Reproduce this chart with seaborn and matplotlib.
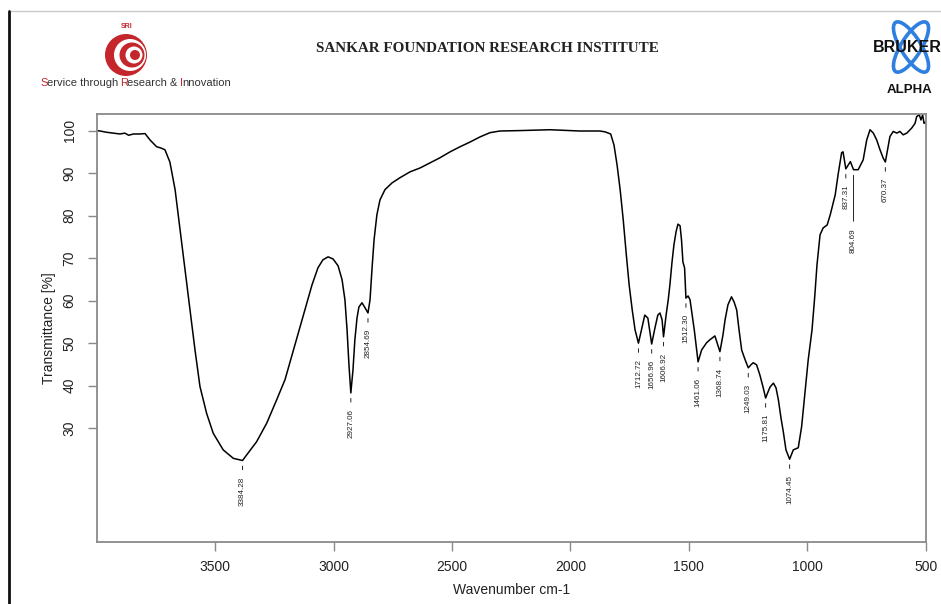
import numpy as np
import pandas as pd
import matplotlib
matplotlib.use("Agg")
import matplotlib.pyplot as plt
import seaborn as sns
from matplotlib.patches import Circle, Ellipse

# FT-IR spectrum (wavenumber in cm-1, transmittance in %)
wavenumber = [
    4000, 3986, 3958, 3930, 3902, 3881, 3865, 3845, 3817, 3796, 3775, 3747,
    3729, 3712, 3691, 3669, 3648, 3627, 3606, 3585, 3564, 3536, 3508, 3466,
    3423, 3384.28, 3367, 3325, 3282, 3240, 3205, 3163, 3121, 3091, 3066,
    3045, 3023, 3002, 2981, 2964, 2952, 2943, 2935, 2927.06, 2918, 2910,
    2901, 2893, 2880, 2867, 2854.69, 2846, 2838, 2829, 2817, 2804, 2783,
    2753, 2720, 2677, 2635, 2593, 2551, 2508, 2466, 2424, 2382, 2340, 2298,
    2213, 2086, 1960, 1875, 1854, 1830, 1816, 1803, 1790, 1777, 1764, 1752,
    1739, 1727, 1712.72, 1698, 1686, 1673, 1656.96, 1643, 1631, 1622, 1613,
    1606.92, 1596, 1587, 1580, 1571, 1563, 1554, 1546, 1537, 1531, 1525,
    1518, 1512.30, 1503, 1495, 1477, 1461.06, 1446, 1425, 1411, 1390, 1378,
    1368.74, 1356, 1347, 1335, 1320, 1309, 1298, 1288, 1277, 1267, 1259,
    1249.03, 1238, 1228, 1214, 1200, 1186, 1175.81, 1166, 1157, 1143, 1132,
    1122, 1111, 1101, 1090, 1074.45, 1059, 1038, 1024, 1010, 996, 980, 968,
    959, 946, 933, 916, 903, 882, 870, 855, 849, 837.31, 818, 804.69, 785,
    764, 749, 735, 721, 707, 693, 680, 670.37, 651, 637, 622, 609, 595, 580,
    559, 545, 538, 527, 520, 513, 507, 500,
]
transmittance = [
    100.0, 99.9, 99.6, 99.4, 99.2, 99.4, 98.9, 99.2, 99.2, 99.3, 97.8, 96.2,
    95.9, 95.5, 92.6, 86.1, 76.6, 67.2, 57.8, 48.4, 39.8, 33.5, 28.8, 24.9,
    22.9, 22.4, 23.7, 26.8, 31.2, 36.7, 41.4, 49.6, 57.8, 63.7, 67.7,
    69.6, 70.3, 69.8, 68.2, 64.9, 60.2, 53.1, 44.9, 38.3, 43.7, 50.8,
    55.9, 58.5, 59.5, 58.3, 57.1, 60.2, 67.2, 74.3, 80.2, 83.7, 86.1,
    87.7, 88.9, 90.3, 91.2, 92.4, 93.6, 95.0, 96.2, 97.3, 98.5, 99.5, 99.9,
    100.0, 100.2, 99.9, 99.9, 99.7, 99.2, 96.6, 91.9, 86.1, 79.0, 70.8, 63.7,
    57.8, 53.1, 50.0, 53.6, 56.6, 55.9, 49.8, 53.6, 56.6, 57.1, 55.5,
    51.5, 56.6, 60.2, 63.7, 69.1, 73.1, 76.2, 78.0, 77.6, 74.3, 69.1,
    67.7, 60.6, 61.1, 60.2, 53.1, 45.6, 48.4, 50.1, 50.8, 51.7, 49.6,
    48.0, 51.9, 55.5, 59.0, 60.9, 59.7, 57.8, 53.1, 48.4, 46.8, 45.6,
    44.2, 44.9, 45.4, 44.9, 42.5, 39.5, 37.1, 38.5, 39.7, 40.6, 39.5,
    36.7, 32.4, 29.1, 24.9, 22.7, 24.9, 25.4, 30.3, 38.3, 46.1, 53.1, 61.3,
    68.4, 75.5, 77.1, 77.8, 80.2, 84.9, 89.6, 94.8, 95.0, 91.0, 92.7, 90.8, 90.8,
    93.1, 97.8, 100.2, 99.4, 97.8, 95.5, 93.6, 92.6, 98.6, 99.8, 99.4, 99.8, 99.0, 99.4,
    100.6, 101.7, 103.3, 103.7, 102.5, 103.7, 101.7, 102.0,
]

# Picked absorption bands
peak_wavenumbers = [3384.28, 2927.06, 2854.69, 1712.72, 1656.96, 1606.92,
                    1512.30, 1461.06, 1368.74, 1249.03, 1175.81, 1074.45,
                    837.31, 804.69, 670.37]
long_leader = [804.69]

x_ticks = [3500, 3000, 2500, 2000, 1500, 1000, 500]
y_ticks = [30, 40, 50, 60, 70, 80, 90, 100]

sns.set_theme(style="ticks")
plt.rcParams['font.family'] = ['Liberation Sans', 'DejaVu Sans']

W, H = 941, 604
fig = plt.figure(figsize=(W / 100, H / 100), dpi=100)

# page layer in pixel units for the report header
page = fig.add_axes([0, 0, 1, 1])
page.set_xlim(0, W)
page.set_ylim(H, 0)
page.axis('off')
page.plot([9, W], [11, 11], color='#c8c8c8', lw=1.0)
page.plot([9, 9], [11, H], color='#111111', lw=2.0)

# institute logo
red = '#c4262c'
page.text(127, 27, 'SRI', color=red, fontsize=5, fontweight='bold',
          ha='center', va='center')
for r, dx, c in [(21, 0, red), (16, 4, 'white'), (12.5, 6, red),
                 (8.5, 8, 'white'), (5, 9, red)]:
    page.add_patch(Circle((126 + dx, 55), r, color=c, lw=0))

parts = [('S', red), ('ervice through ', '#333333'), ('R', red),
         ('esearch & ', '#333333'), ('I', red), ('nnovation', '#333333')]
prev = page.text(40, 83, parts[0][0], color=parts[0][1], fontsize=8,
                 ha='left', va='center')
for s, c in parts[1:]:
    prev = page.annotate(s, xy=(1, 0), xycoords=prev, xytext=(-0.6, 0),
                         textcoords='offset points', color=c, fontsize=8,
                         ha='left', va='bottom')

page.text(487, 48, 'SANKAR FOUNDATION RESEARCH INSTITUTE',
          family=['Liberation Serif', 'DejaVu Serif'], fontweight='bold',
          fontsize=10.9, color='#222222', ha='center', va='center')

# instrument logo
blue = '#2f7fe0'
page.add_patch(Ellipse((911, 47), 20, 58, angle=32, fill=False,
                       ec=blue, lw=2.6))
page.add_patch(Ellipse((911, 47), 20, 58, angle=-32, fill=False,
                       ec=blue, lw=2.6))
page.text(873, 47, 'BRUKER', fontsize=11.5, fontweight='bold', color='#111111',
          ha='left', va='center')
page.text(910, 90, 'ALPHA', fontsize=9.5, fontweight='bold', color='#111111',
          ha='center', va='center')

# spectrum axes
ax = fig.add_axes([96.7 / W, 1 - 541.7 / H, (925.7 - 96.7) / W,
                   (541.7 - 114) / H])
df = pd.DataFrame({'wavenumber': wavenumber, 'transmittance': transmittance})
sns.lineplot(data=df, x='wavenumber', y='transmittance', sort=False,
             estimator=None, color='black', lw=1.1, ax=ax)
ax.set_xlim(4000, 500)
ax.set_ylim(3.3, 103.9)
ax.set_xticks(x_ticks)
ax.set_yticks(y_ticks)
ax.set_xticklabels([str(v) for v in x_ticks])
ax.set_yticklabels([str(v) for v in y_ticks], rotation=90, va='center')

spine_c = '#8a8a8a'
for s in ax.spines.values():
    s.set_visible(True)
    s.set_color(spine_c)
    s.set_linewidth(1.3)
ax.tick_params(axis='both', colors=spine_c, length=6.5, width=1.0,
               labelcolor='#222222', labelsize=10)
ax.tick_params(axis='x', pad=6.5)
ax.tick_params(axis='y', pad=8)
ax.set_xlabel('Wavenumber cm-1', fontsize=10, color='#222222', labelpad=7)
ax.set_ylabel('Transmittance [%]', fontsize=10, color='#222222', labelpad=5)

# peak annotations
wn_sorted = np.array(wavenumber)[::-1]
t_sorted = np.array(transmittance)[::-1]
for w in peak_wavenumbers:
    t = float(np.interp(w, wn_sorted, t_sorted))
    off = 42 if w in long_leader else 11.5
    ax.annotate(f'{w:.2f}', xy=(w, t), xytext=(0, -off),
                textcoords='offset points', rotation=90, ha='center',
                va='top', fontsize=5.8, color='#222222',
                arrowprops=dict(arrowstyle='-', color='#222222', lw=0.7,
                                shrinkA=2.5, shrinkB=4.0))

fig.savefig('out.png', dpi=100)
